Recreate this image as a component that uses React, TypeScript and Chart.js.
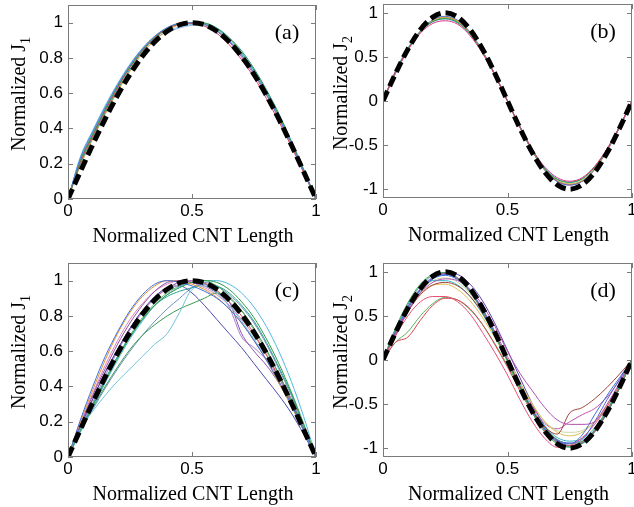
import React, { useEffect, useRef } from "react";
import { Chart, registerables } from "chart.js";

Chart.register(...registerables);

// ---------- data ----------
const xGrid = [0, 0.05, 0.1, 0.15, 0.2, 0.25, 0.3, 0.35, 0.4, 0.45, 0.5, 0.55, 0.6, 0.65, 0.7, 0.75, 0.8, 0.85, 0.9, 0.95, 1];

const xTicks = [0, 0.5, 1];
const yTicksJ1 = [0, 0.2, 0.4, 0.6, 0.8, 1];
const yTicksJ2 = [-1, -0.5, 0, 0.5, 1];

// analytical reference (thick dashed)
const refJ1 = [0, 0.156, 0.309, 0.454, 0.588, 0.707, 0.809, 0.891, 0.951, 0.988, 1, 0.988, 0.951, 0.891, 0.809, 0.707, 0.588, 0.454, 0.309, 0.156, 0];
const refJ2 = [0, 0.309, 0.588, 0.809, 0.951, 1, 0.951, 0.809, 0.588, 0.309, 0, -0.309, -0.588, -0.809, -0.951, -1, -0.951, -0.809, -0.588, -0.309, 0];

// panel (a)
const a1 = [0, 0.233, 0.383, 0.522, 0.649, 0.76, 0.853, 0.924, 0.972, 0.997, 1, 0.99, 0.955, 0.895, 0.815, 0.715, 0.595, 0.46, 0.315, 0.16, 0];
const a2 = [0, 0.22, 0.37, 0.51, 0.64, 0.75, 0.845, 0.92, 0.97, 0.995, 1, 0.995, 0.965, 0.91, 0.83, 0.73, 0.61, 0.475, 0.325, 0.165, 0];
const a3 = [0, 0.21, 0.36, 0.5, 0.63, 0.745, 0.84, 0.915, 0.965, 0.99, 0.995, 0.98, 0.94, 0.875, 0.79, 0.69, 0.57, 0.44, 0.3, 0.15, 0];
const a4 = [0, 0.24, 0.39, 0.53, 0.655, 0.765, 0.855, 0.92, 0.955, 0.975, 0.99, 0.985, 0.955, 0.9, 0.82, 0.72, 0.6, 0.465, 0.32, 0.165, 0];
const a5 = [0, 0.2, 0.35, 0.49, 0.62, 0.735, 0.835, 0.91, 0.965, 0.995, 1, 0.998, 0.97, 0.915, 0.84, 0.74, 0.62, 0.485, 0.33, 0.17, 0];
const a6 = [0, 0.19, 0.34, 0.48, 0.61, 0.725, 0.825, 0.9, 0.955, 0.99, 1, 0.99, 0.955, 0.895, 0.815, 0.715, 0.6, 0.465, 0.32, 0.16, 0];
const a7 = [0, 0.215, 0.365, 0.505, 0.635, 0.75, 0.845, 0.92, 0.97, 0.995, 1, 0.985, 0.95, 0.89, 0.805, 0.705, 0.59, 0.455, 0.31, 0.155, 0];
const a8 = [0, 0.23, 0.38, 0.52, 0.645, 0.755, 0.845, 0.91, 0.945, 0.97, 0.985, 0.99, 0.96, 0.9, 0.825, 0.725, 0.605, 0.47, 0.32, 0.16, 0];

// panel (b)
const b1 = [0, 0.33, 0.58, 0.77, 0.88, 0.91, 0.87, 0.74, 0.54, 0.29, 0, -0.29, -0.55, -0.75, -0.87, -0.91, -0.87, -0.74, -0.54, -0.29, 0];
const b2 = [0, 0.33, 0.59, 0.785, 0.9, 0.935, 0.89, 0.76, 0.55, 0.29, 0, -0.29, -0.56, -0.77, -0.89, -0.92, -0.88, -0.75, -0.55, -0.29, 0];
const b3 = [0, 0.32, 0.59, 0.79, 0.91, 0.95, 0.905, 0.77, 0.56, 0.295, 0, -0.295, -0.565, -0.775, -0.9, -0.94, -0.9, -0.765, -0.555, -0.295, 0];
const b4 = [0, 0.315, 0.59, 0.795, 0.92, 0.96, 0.915, 0.78, 0.565, 0.3, 0, -0.3, -0.57, -0.785, -0.915, -0.955, -0.91, -0.775, -0.56, -0.3, 0];
const b5 = [0, 0.34, 0.6, 0.79, 0.9, 0.93, 0.885, 0.755, 0.55, 0.29, 0, -0.29, -0.555, -0.76, -0.885, -0.925, -0.885, -0.755, -0.55, -0.29, 0];
const b6 = [0, 0.31, 0.575, 0.78, 0.905, 0.945, 0.9, 0.77, 0.56, 0.295, 0, -0.3, -0.57, -0.785, -0.91, -0.95, -0.91, -0.775, -0.565, -0.3, 0];
const b7 = [0, 0.325, 0.585, 0.79, 0.915, 0.955, 0.91, 0.775, 0.56, 0.3, 0, -0.3, -0.565, -0.78, -0.905, -0.945, -0.905, -0.77, -0.56, -0.3, 0];

// panel (c)
const c1 = [0, 0.21, 0.4, 0.57, 0.71, 0.83, 0.92, 0.98, 1, 0.99, 0.97, 0.94, 0.9, 0.84, 0.76, 0.66, 0.55, 0.43, 0.3, 0.15, 0];
const c2 = [0, 0.2, 0.38, 0.55, 0.7, 0.82, 0.91, 0.97, 1, 0.995, 0.98, 0.95, 0.905, 0.84, 0.76, 0.66, 0.55, 0.42, 0.29, 0.15, 0];
const c3 = [0, 0.15, 0.29, 0.43, 0.56, 0.68, 0.78, 0.86, 0.92, 0.96, 0.99, 1, 0.99, 0.95, 0.88, 0.79, 0.67, 0.53, 0.37, 0.19, 0];
const c4 = [0, 0.14, 0.28, 0.42, 0.55, 0.67, 0.77, 0.86, 0.92, 0.965, 0.99, 1, 1, 0.98, 0.93, 0.85, 0.74, 0.6, 0.43, 0.23, 0];
const c5 = [0, 0.16, 0.26, 0.35, 0.43, 0.5, 0.57, 0.64, 0.7, 0.82, 0.95, 0.97, 0.93, 0.86, 0.77, 0.67, 0.55, 0.42, 0.29, 0.15, 0];
const c6 = [0, 0.15, 0.28, 0.4, 0.51, 0.61, 0.69, 0.75, 0.8, 0.84, 0.87, 0.9, 0.93, 0.9, 0.83, 0.73, 0.61, 0.47, 0.32, 0.16, 0];
const c7 = [0, 0.17, 0.33, 0.48, 0.61, 0.73, 0.83, 0.91, 0.96, 0.97, 0.93, 0.86, 0.78, 0.7, 0.62, 0.53, 0.44, 0.35, 0.25, 0.13, 0];
const c8 = [0, 0.18, 0.35, 0.5, 0.64, 0.76, 0.86, 0.94, 0.99, 1, 0.99, 0.97, 0.93, 0.88, 0.7, 0.6, 0.52, 0.42, 0.3, 0.16, 0];
const c9 = [0, 0.16, 0.31, 0.46, 0.6, 0.72, 0.82, 0.9, 0.96, 0.99, 1, 0.98, 0.94, 0.85, 0.68, 0.62, 0.55, 0.45, 0.32, 0.17, 0];
const c10 = [0, 0.17, 0.33, 0.48, 0.61, 0.73, 0.83, 0.9, 0.955, 0.99, 1, 0.985, 0.945, 0.88, 0.8, 0.7, 0.58, 0.45, 0.31, 0.16, 0];
const c11 = [0, 0.16, 0.3, 0.44, 0.57, 0.68, 0.78, 0.86, 0.91, 0.94, 0.96, 0.98, 0.97, 0.93, 0.86, 0.77, 0.65, 0.51, 0.36, 0.18, 0];
const c12 = [0, 0.19, 0.36, 0.52, 0.66, 0.78, 0.87, 0.94, 0.98, 1, 0.99, 0.96, 0.92, 0.86, 0.78, 0.69, 0.58, 0.46, 0.33, 0.17, 0];
const c13 = [0, 0.15, 0.3, 0.44, 0.57, 0.69, 0.79, 0.87, 0.93, 0.97, 0.99, 1, 0.97, 0.91, 0.83, 0.72, 0.6, 0.47, 0.33, 0.17, 0];
const c14 = [0, 0.15, 0.27, 0.39, 0.5, 0.6, 0.69, 0.77, 0.84, 0.9, 0.96, 0.99, 0.97, 0.92, 0.85, 0.76, 0.64, 0.5, 0.35, 0.18, 0];

// panel (d)
const d1 = [0, 0.36, 0.65, 0.86, 0.97, 0.99, 0.92, 0.77, 0.55, 0.28, -0.02, -0.32, -0.6, -0.82, -0.95, -0.98, -0.93, -0.79, -0.57, -0.3, 0];
const d2 = [0, 0.3, 0.56, 0.76, 0.88, 0.92, 0.9, 0.8, 0.62, 0.38, 0.1, -0.15, -0.35, -0.54, -0.68, -0.73, -0.73, -0.7, -0.5, -0.26, 0];
const d3 = [0, 0.3, 0.55, 0.74, 0.85, 0.88, 0.84, 0.72, 0.53, 0.28, 0, -0.3, -0.57, -0.76, -0.84, -0.6, -0.54, -0.44, -0.31, -0.16, 0];
const d4 = [0, 0.31, 0.58, 0.79, 0.92, 0.96, 0.91, 0.77, 0.56, 0.29, -0.01, -0.31, -0.58, -0.79, -0.92, -0.95, -0.85, -0.62, -0.4, -0.2, 0];
const d5 = [0, 0.32, 0.6, 0.8, 0.93, 0.97, 0.92, 0.78, 0.57, 0.3, 0, -0.3, -0.57, -0.78, -0.91, -0.94, -0.9, -0.7, -0.45, -0.22, 0];
const d6 = [0, 0.27, 0.5, 0.66, 0.72, 0.72, 0.66, 0.52, 0.31, 0.08, -0.17, -0.45, -0.7, -0.89, -0.99, -0.97, -0.88, -0.73, -0.53, -0.28, 0];
const d7 = [0, 0.2, 0.26, 0.45, 0.62, 0.7, 0.68, 0.58, 0.4, 0.17, -0.08, -0.35, -0.6, -0.8, -0.93, -0.97, -0.93, -0.8, -0.58, -0.31, 0];
const d8 = [0, 0.2, 0.32, 0.5, 0.64, 0.71, 0.68, 0.57, 0.4, 0.18, -0.06, -0.32, -0.57, -0.77, -0.9, -0.95, -0.92, -0.8, -0.59, -0.32, 0];
const d9 = [0, 0.3, 0.56, 0.75, 0.85, 0.86, 0.8, 0.67, 0.48, 0.25, 0, -0.26, -0.5, -0.7, -0.82, -0.86, -0.82, -0.7, -0.51, -0.27, 0];
const d10 = [0, 0.32, 0.6, 0.8, 0.9, 0.9, 0.85, 0.72, 0.52, 0.27, 0, -0.28, -0.55, -0.75, -0.88, -0.92, -0.89, -0.77, -0.56, -0.3, 0];
const d11 = [0, 0.31, 0.58, 0.78, 0.9, 0.93, 0.88, 0.75, 0.55, 0.3, 0.02, -0.25, -0.5, -0.7, -0.8, -0.82, -0.8, -0.7, -0.52, -0.28, 0];
const d12 = [0, 0.33, 0.61, 0.81, 0.94, 0.98, 0.93, 0.79, 0.58, 0.32, 0.04, -0.25, -0.52, -0.72, -0.78, -0.7, -0.62, -0.55, -0.42, -0.23, 0];
const d13 = [0, 0.28, 0.55, 0.77, 0.92, 0.99, 0.97, 0.86, 0.67, 0.41, 0.11, -0.2, -0.5, -0.75, -0.91, -0.97, -0.94, -0.81, -0.6, -0.32, 0];
const d14 = [0, 0.34, 0.63, 0.84, 0.96, 0.99, 0.93, 0.78, 0.56, 0.29, -0.01, -0.31, -0.59, -0.8, -0.94, -0.99, -0.95, -0.82, -0.6, -0.32, 0];

const curvesA = [a1, a2, a3, a4, a5, a6, a7, a8];
const curvesB = [b1, b2, b3, b4, b5, b6, b7];
const curvesC = [c1, c2, c3, c4, c5, c6, c7, c8, c9, c10, c11, c12, c13, c14];
const curvesD = [d1, d2, d3, d4, d5, d6, d7, d8, d9, d10, d11, d12, d13, d14];

const xTitle = "Normalized CNT Length";
const yTitleMain = "Normalized J";
const panelLabels = ["(a)", "(b)", "(c)", "(d)"];
const ySubs = ["1", "2", "1", "2"];

// ---------- styling ----------
const colorsA = ["#4f7fe0", "#2f9a45", "#d8434f", "#7cc8e6", "#1f8f7a", "#d9a43a", "#b05cc0", "#8fb8f0"];
const colorsB = ["#e0308a", "#2f9a45", "#d6b63a", "#3f6fd8", "#35b5c8", "#d8434f", "#8a5cc9"];
const colorsC = ["#3f6fd8", "#e0903a", "#2f9a45", "#4fb8e0", "#6cc4d8", "#3a9a50", "#4a4ab0", "#8a50b0", "#a080d0", "#d8434f", "#2aa090", "#e080b0", "#6ab86a", "#7090c0"];
const colorsD = ["#3aa85a", "#b050b0", "#a0403a", "#3f6fd8", "#6060d0", "#e8507a", "#d8434f", "#5ab05a", "#d6c050", "#35b5c8", "#c8d8a0", "#c050b0", "#5a40b0", "#3aa08c"];

const SERIF = "'Liberation Serif', 'Times New Roman', serif";
const SANS = "'Liberation Sans', Arial, sans-serif";

type Panel = {
  ref: number[];
  curves: number[][];
  colors: string[];
  yMin: number;
  yMax: number;
  yTicks: number[];
  left: number;
  top: number;
  w: number;
  h: number;
  yW: number;
  padTop: number;
  padRight: number;
  xH: number;
  yTitleOff: number;
};

const panels: Panel[] = [
  { ref: refJ1, curves: curvesA, colors: colorsA, yMin: 0, yMax: 1.1, yTicks: yTicksJ1, left: 0, top: 0, w: 330, h: 250, yW: 68, padTop: 5, padRight: 14, xH: 51, yTitleOff: 43 },
  { ref: refJ2, curves: curvesB, colors: colorsB, yMin: -1.1, yMax: 1.1, yTicks: yTicksJ2, left: 310, top: 0, w: 324, h: 250, yW: 73, padTop: 4, padRight: 2, xH: 52, yTitleOff: 36 },
  { ref: refJ1, curves: curvesC, colors: colorsC, yMin: 0, yMax: 1.1, yTicks: yTicksJ1, left: 0, top: 250, w: 330, h: 257, yW: 68, padTop: 13, padRight: 14, xH: 50, yTitleOff: 43 },
  { ref: refJ2, curves: curvesD, colors: colorsD, yMin: -1.1, yMax: 1.1, yTicks: yTicksJ2, left: 310, top: 250, w: 324, h: 257, yW: 73, padTop: 13, padRight: 2, xH: 50, yTitleOff: 36 },
];

const fmt = (v: number) => String(Math.round(v * 10) / 10);

const framePlugin = {
  id: "frame",
  afterDraw(chart: any, _args: any, opts: any) {
    const { ctx, chartArea, scales } = chart;
    const { left, right, top, bottom } = chartArea;
    ctx.save();
    ctx.strokeStyle = "#7a7a7a";
    ctx.lineWidth = 1;
    ctx.strokeRect(Math.round(left) + 0.5, Math.round(top) + 0.5, Math.round(right - left) - 1, Math.round(bottom - top) - 1);
    const tl = 5;
    ctx.beginPath();
    xTicks.forEach((v) => {
      const px = Math.round(scales.x.getPixelForValue(v)) + 0.5;
      ctx.moveTo(px, bottom);
      ctx.lineTo(px, bottom - tl);
      ctx.moveTo(px, top);
      ctx.lineTo(px, top + tl);
    });
    opts.yTicks.forEach((v: number) => {
      const py = Math.round(scales.y.getPixelForValue(v)) + 0.5;
      ctx.moveTo(left, py);
      ctx.lineTo(left + tl, py);
      ctx.moveTo(right, py);
      ctx.lineTo(right - tl, py);
    });
    ctx.stroke();

    ctx.fillStyle = "#000";
    ctx.font = `20px ${SERIF}`;
    ctx.textAlign = "center";
    ctx.textBaseline = "alphabetic";
    ctx.fillText(xTitle, (left + right) / 2 + 1, bottom + 43);

    const mainFont = `20px ${SERIF}`;
    const subFont = `14px ${SERIF}`;
    ctx.font = mainFont;
    const wMain = ctx.measureText(yTitleMain).width;
    ctx.font = subFont;
    const wSub = ctx.measureText(opts.sub).width;
    const total = wMain + wSub;
    ctx.translate(left - opts.yTitleOff, (top + bottom) / 2 - 8);
    ctx.rotate(-Math.PI / 2);
    ctx.textAlign = "left";
    ctx.font = mainFont;
    ctx.fillText(yTitleMain, -total / 2, 0);
    ctx.font = subFont;
    ctx.fillText(opts.sub, -total / 2 + wMain, 5);
    ctx.setTransform(1, 0, 0, 1, 0, 0);

    ctx.font = `22px ${SERIF}`;
    ctx.textAlign = "center";
    ctx.textBaseline = "middle";
    ctx.fillText(opts.label, right - 29, top + 28.5);
    ctx.restore();
  },
};

function PanelChart({ p, idx }: { p: Panel; idx: number }) {
  const ref = useRef<HTMLCanvasElement | null>(null);
  useEffect(() => {
    if (!ref.current) return;
    const datasets: any[] = [
      {
        data: xGrid.map((x, i) => ({ x, y: p.ref[i] })),
        borderColor: "#000",
        borderWidth: 5,
        borderDash: [11, 5],
        borderCapStyle: "butt",
        pointRadius: 0,
        cubicInterpolationMode: "monotone",
        fill: false,
        order: 0,
      },
      ...p.curves.map((c, k) => ({
        data: xGrid.map((x, i) => ({ x, y: c[i] })),
        borderColor: p.colors[k % p.colors.length],
        borderWidth: 1,
        pointRadius: 0,
        cubicInterpolationMode: "monotone",
        fill: false,
        order: 1,
      })),
    ];
    const chart = new Chart(ref.current, {
      type: "line",
      data: { datasets },
      plugins: [framePlugin],
      options: {
        animation: false,
        responsive: false,
        devicePixelRatio: 1,
        events: [],
        layout: { padding: { left: 0, right: p.padRight, top: p.padTop, bottom: 0 } },
        plugins: {
          legend: { display: false },
          tooltip: { enabled: false },
          frame: { yTicks: p.yTicks, sub: ySubs[idx], label: panelLabels[idx], yTitleOff: p.yTitleOff },
        } as any,
        scales: {
          x: {
            type: "linear",
            min: 0,
            max: 1,
            grid: { display: false, drawTicks: false },
            border: { display: false },
            ticks: {
              stepSize: 0.5,
              padding: 2,
              color: "#000",
              font: { family: SANS, size: 17 },
              maxRotation: 0,
              callback: (v: any) => fmt(Number(v)),
            },
            afterFit: (s: any) => {
              s.height = p.xH;
              s.paddingLeft = 0;
              s.paddingRight = 0;
            },
          },
          y: {
            type: "linear",
            min: p.yMin,
            max: p.yMax,
            grid: { display: false, drawTicks: false },
            border: { display: false },
            ticks: {
              stepSize: p.yMin < 0 ? 0.5 : 0.2,
              includeBounds: false,
              padding: 5,
              color: "#000",
              font: { family: SANS, size: 17 },
              callback: (v: any) => fmt(Number(v)),
            },
            afterFit: (s: any) => {
              s.width = p.yW;
              s.paddingTop = 0;
              s.paddingBottom = 0;
            },
          },
        },
      } as any,
    });
    return () => chart.destroy();
  }, [p, idx]);
  return (
    <canvas
      ref={ref}
      width={p.w}
      height={p.h}
      style={{ position: "absolute", left: p.left, top: p.top, width: p.w, height: p.h }}
    />
  );
}

export default function App() {
  return (
    <div style={{ position: "fixed", left: 0, top: 0, width: 634, height: 507, background: "#fff", overflow: "hidden" }}>
      {panels.map((p, i) => (
        <PanelChart key={i} p={p} idx={i} />
      ))}
    </div>
  );
}
